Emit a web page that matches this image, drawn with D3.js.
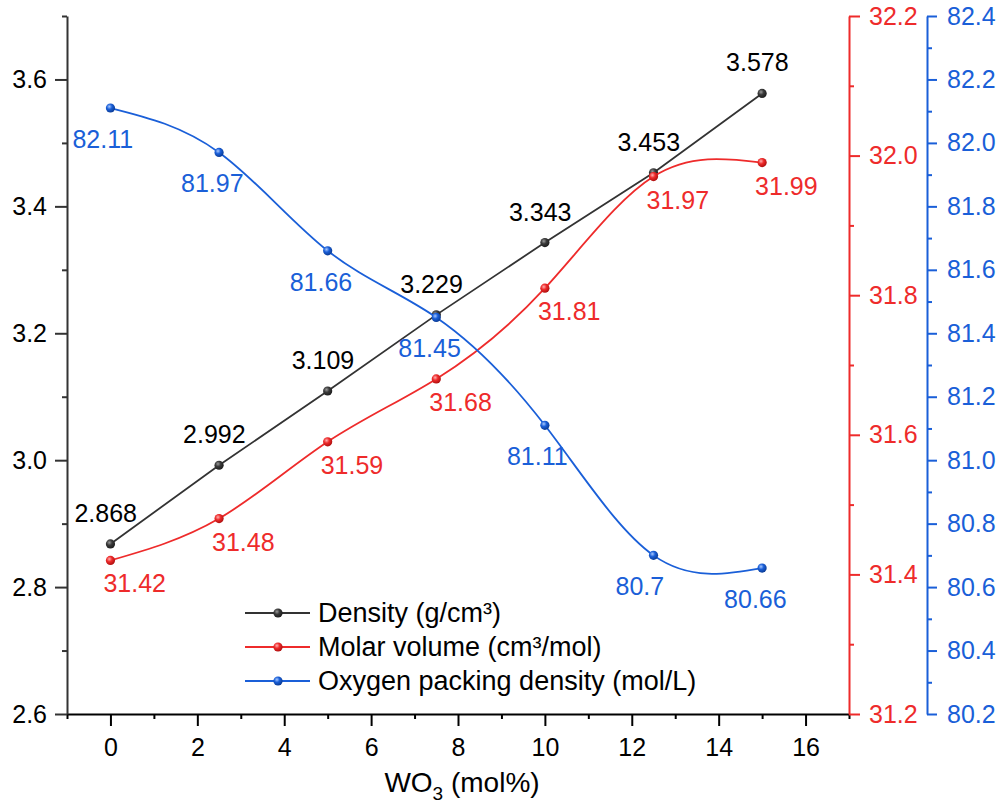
<!DOCTYPE html>
<html lang="en">
<head>
<meta charset="UTF-8">
<title>WO3 glass properties</title>
<script src="https://d3js.org/d3.v7.min.js"></script>
<style>
    body { margin: 0; background: #fff; }
    svg text { font-family: "Liberation Sans", Arial, sans-serif; }
</style>
</head>
<body>
<svg id="chart" width="998" height="805"></svg>
<script>
    // values
    const wo3 = [0, 2.5, 5, 7.5, 10, 12.5, 15];
    const density = [2.868, 2.992, 3.109, 3.229, 3.343, 3.453, 3.578];
    const molarVolume = [31.42, 31.48, 31.59, 31.68, 31.81, 31.97, 31.99];
    const oxygenPacking = [82.11, 81.97, 81.66, 81.45, 81.11, 80.7, 80.66];

    const xTicks = [0, 2, 4, 6, 8, 10, 12, 14, 16];
    const densityTicks = [2.6, 2.8, 3.0, 3.2, 3.4, 3.6];
    const molarTicks = [31.2, 31.4, 31.6, 31.8, 32.0, 32.2];
    const oxygenTicks = [80.2, 80.4, 80.6, 80.8, 81.0, 81.2, 81.4, 81.6, 81.8, 82.0, 82.2, 82.4];
    const legendLabels = ["Density (g/cm³)", "Molar volume (cm³/mol)", "Oxygen packing density (mol/L)"];

    const svg = d3.select("#chart");

    const x = d3.scaleLinear().domain([-1, 17]).range([67, 849]);
    const yDen = d3.scaleLinear().domain([2.6, 3.7]).range([714, 16]);
    const yMol = d3.scaleLinear().domain([31.2, 32.2]).range([714, 16]);
    const yOxy = d3.scaleLinear().domain([80.2, 82.4]).range([714, 16]);

    const cBlack = "#333333", cRed = "#ee2b2b", cBlue = "#1a5fd8";

    // shaded ball markers
    const defs = svg.append("defs");
    [["ballBlack", "#9a9a9a", "#3a3a3a", "#1e1e1e"],
     ["ballRed", "#ffb0b0", "#ee2b2b", "#b01010"],
     ["ballBlue", "#a8c8ff", "#1a5fd8", "#0b3c96"]].forEach(g => {
        const rg = defs.append("radialGradient").attr("id", g[0])
            .attr("cx", "38%").attr("cy", "35%").attr("r", "65%");
        rg.append("stop").attr("offset", "0%").attr("stop-color", g[1]);
        rg.append("stop").attr("offset", "45%").attr("stop-color", g[2]);
        rg.append("stop").attr("offset", "100%").attr("stop-color", g[3]);
    });

    function styleAxis(g, color) {
        g.selectAll("path.domain").attr("stroke", color).attr("stroke-width", 2);
        g.selectAll(".tick line").attr("stroke", color).attr("stroke-width", 2);
        g.selectAll("text").attr("fill", color === cBlack ? "#000" : color)
            .attr("font-size", 25).attr("font-family", '"Liberation Sans", Arial, sans-serif');
    }

    // x axis (minor then major)
    const gxMinor = svg.append("g").attr("transform", "translate(0,714)")
        .call(d3.axisBottom(x).tickValues(d3.range(-1, 18, 2)).tickSize(5).tickSizeOuter(0).tickFormat(""));
    gxMinor.select("path.domain").remove();
    styleAxis(gxMinor, "#000");
    const gx = svg.append("g").attr("transform", "translate(0,714)")
        .call(d3.axisBottom(x).tickValues(xTicks).tickSize(12).tickSizeOuter(0).tickPadding(12));
    styleAxis(gx, "#000");

    // left axis
    const glMinor = svg.append("g").attr("transform", "translate(67,0)")
        .call(d3.axisLeft(yDen).tickValues(d3.range(2.7, 3.75, 0.2)).tickSize(5).tickFormat(""));
    glMinor.select("path.domain").remove();
    styleAxis(glMinor, cBlack);
    const gl = svg.append("g").attr("transform", "translate(67,0)")
        .call(d3.axisLeft(yDen).tickValues(densityTicks).tickSize(12).tickSizeOuter(0)
            .tickPadding(8).tickFormat(d3.format(".1f")));
    styleAxis(gl, cBlack);

    // red right axis
    const grMinor = svg.append("g").attr("transform", "translate(849,0)")
        .call(d3.axisRight(yMol).tickValues(d3.range(31.3, 32.2, 0.2)).tickSize(5).tickFormat(""));
    grMinor.select("path.domain").remove();
    styleAxis(grMinor, cRed);
    const gr = svg.append("g").attr("transform", "translate(849,0)")
        .call(d3.axisRight(yMol).tickValues(molarTicks).tickSize(11).tickSizeOuter(0)
            .tickPadding(9).tickFormat(d3.format(".1f")));
    styleAxis(gr, cRed);

    // blue right axis
    const gbMinor = svg.append("g").attr("transform", "translate(927,0)")
        .call(d3.axisRight(yOxy).tickValues(d3.range(80.3, 82.4, 0.2)).tickSize(5).tickFormat(""));
    gbMinor.select("path.domain").remove();
    styleAxis(gbMinor, cBlue);
    const gb = svg.append("g").attr("transform", "translate(927,0)")
        .call(d3.axisRight(yOxy).tickValues(oxygenTicks).tickSize(10).tickSizeOuter(0)
            .tickPadding(10).tickFormat(d3.format(".1f")));
    styleAxis(gb, cBlue);

    // x axis title
    const title = svg.append("text").attr("x", 462).attr("y", 792)
        .attr("text-anchor", "middle").attr("font-size", 28).attr("fill", "#000");
    title.append("tspan").text("WO");
    title.append("tspan").attr("font-size", 19).attr("dy", 8).text("3");
    title.append("tspan").attr("dy", -8).text(" (mol%)");

    // series
    const series = [
        { vals: density, y: yDen, color: cBlack, text: "#000", ball: "ballBlack", curve: d3.curveLinear, dx: -36, dy: -22 },
        { vals: molarVolume, y: yMol, color: cRed, text: cRed, ball: "ballRed", curve: d3.curveNatural, dx: -7, dy: 32 },
        { vals: oxygenPacking, y: yOxy, color: cBlue, text: cBlue, ball: "ballBlue", curve: d3.curveNatural, dx: -38, dy: 40 }
    ];

    series.forEach(s => {
        const pts = wo3.map((w, i) => [w, s.vals[i]]);
        const line = d3.line().x(d => x(d[0])).y(d => s.y(d[1])).curve(s.curve);
        const g = svg.append("g");
        g.append("path").attr("d", line(pts)).attr("fill", "none")
            .attr("stroke", s.color).attr("stroke-width", 1.8);
        g.selectAll("circle").data(pts).join("circle")
            .attr("cx", d => x(d[0])).attr("cy", d => s.y(d[1])).attr("r", 4.6)
            .attr("fill", `url(#${s.ball})`);
        g.selectAll("text").data(pts).join("text")
            .attr("x", d => x(d[0]) + s.dx).attr("y", d => s.y(d[1]) + s.dy)
            .attr("font-size", 25).attr("fill", s.text)
            .text(d => d[1]);
    });

    // legend
    const legend = svg.append("g");
    legendLabels.forEach((lab, i) => {
        const ly = 613 + i * 34;
        const s = series[i];
        legend.append("line").attr("x1", 245).attr("x2", 310).attr("y1", ly).attr("y2", ly)
            .attr("stroke", s.color).attr("stroke-width", 1.8);
        legend.append("circle").attr("cx", 278).attr("cy", ly).attr("r", 4.6)
            .attr("fill", `url(#${s.ball})`);
        legend.append("text").attr("x", 318).attr("y", ly + 9)
            .attr("font-size", 27).attr("fill", "#000").text(lab);
    });
</script>
</body>
</html>
